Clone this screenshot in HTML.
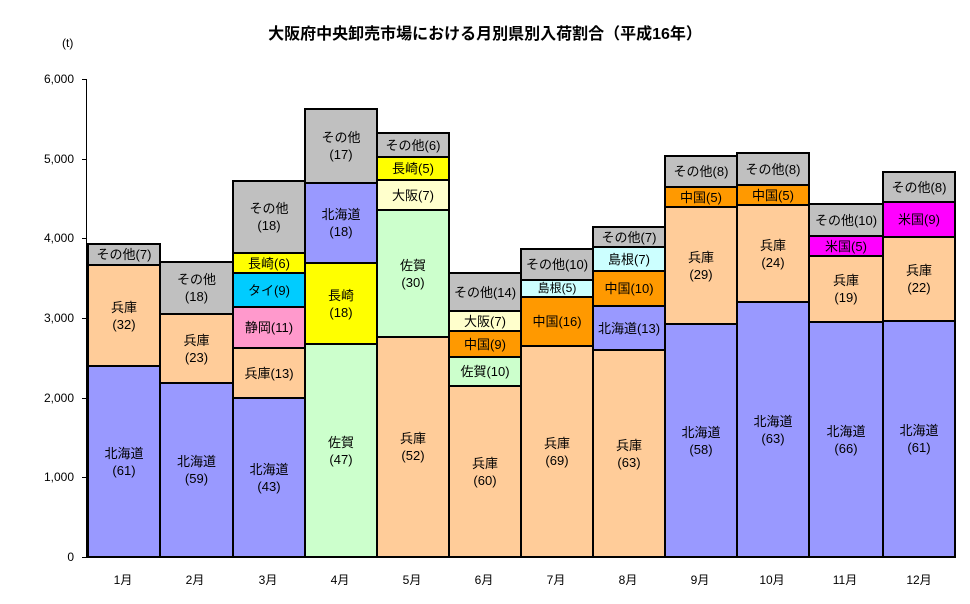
<!DOCTYPE html><html><head><meta charset="utf-8"><style>
body{margin:0;width:970px;height:604px;background:#fff;position:relative;overflow:hidden;font-family:"Liberation Sans","Noto Sans CJK JP",sans-serif;color:#000}
.s{position:absolute;box-sizing:border-box;border:2px solid #000;display:flex;align-items:center;justify-content:center;text-align:center;font-size:13px;line-height:17px;white-space:nowrap;overflow:hidden}
.t{position:absolute;font-size:12px;text-align:right;width:60px;left:14px}
.m{position:absolute;font-size:12px;top:571px;width:72px;text-align:center}
.k{position:absolute;left:82px;width:5px;height:1px;background:#000}
.a{background:#9999ff}.b{background:#ffcc99}.c{background:#c0c0c0}.y{background:#ffff00}.ta{background:#00ccff}.sz{background:#ff99cc}.sg{background:#ccffcc}.os{background:#ffffcc}.cn{background:#ff9900}.sm{background:#ccffff}.us{background:#ff00ff}
</style></head><body>
<div style="position:absolute;top:20px;left:0;width:970px;text-align:center;font-size:16px;font-weight:bold">大阪府中央卸売市場における月別県別入荷割合（平成16年）</div>
<div style="position:absolute;left:62px;top:36px;font-size:12px">(t)</div>
<div class="t" style="top:72px">6,000</div><div class="t" style="top:152px">5,000</div><div class="t" style="top:231px">4,000</div><div class="t" style="top:311px">3,000</div><div class="t" style="top:391px">2,000</div><div class="t" style="top:470px">1,000</div><div class="t" style="top:550px">0</div>
<div class="k" style="top:79px"></div><div class="k" style="top:159px"></div><div class="k" style="top:238px"></div><div class="k" style="top:318px"></div><div class="k" style="top:398px"></div><div class="k" style="top:477px"></div><div class="k" style="top:557px"></div>
<div style="position:absolute;left:86px;top:79px;width:1px;height:479px;background:#000"></div>
<div style="position:absolute;left:86px;top:557px;width:870px;height:1px;background:#000"></div>

<!-- 1 -->
<div class="s c" style="left:87px;width:74px;top:243px;height:23px">その他(7)</div>
<div class="s b" style="left:87px;width:74px;top:264px;height:103px">兵庫<br>(32)</div>
<div class="s a" style="left:87px;width:74px;top:365px;height:193px">北海道<br>(61)</div>
<!-- 2 -->
<div class="s c" style="left:159px;width:75px;top:261px;height:54px">その他<br>(18)</div>
<div class="s b" style="left:159px;width:75px;top:313px;height:71px">兵庫<br>(23)</div>
<div class="s a" style="left:159px;width:75px;top:382px;height:176px">北海道<br>(59)</div>
<!-- 3 -->
<div class="s c" style="left:232px;width:74px;top:180px;height:74px">その他<br>(18)</div>
<div class="s y" style="left:232px;width:74px;top:252px;height:22px">長崎(6)</div>
<div class="s ta" style="left:232px;width:74px;top:272px;height:36px">タイ(9)</div>
<div class="s sz" style="left:232px;width:74px;top:306px;height:43px">静岡(11)</div>
<div class="s b" style="left:232px;width:74px;top:347px;height:52px">兵庫(13)</div>
<div class="s a" style="left:232px;width:74px;top:397px;height:161px">北海道<br>(43)</div>
<!-- 4 -->
<div class="s c" style="left:304px;width:74px;top:108px;height:76px">その他<br>(17)</div>
<div class="s a" style="left:304px;width:74px;top:182px;height:82px">北海道<br>(18)</div>
<div class="s y" style="left:304px;width:74px;top:262px;height:83px">長崎<br>(18)</div>
<div class="s sg" style="left:304px;width:74px;top:343px;height:215px">佐賀<br>(47)</div>
<!-- 5 -->
<div class="s c" style="left:376px;width:74px;top:132px;height:26px">その他(6)</div>
<div class="s y" style="left:376px;width:74px;top:156px;height:25px">長崎(5)</div>
<div class="s os" style="left:376px;width:74px;top:179px;height:32px">大阪(7)</div>
<div class="s sg" style="left:376px;width:74px;top:209px;height:129px">佐賀<br>(30)</div>
<div class="s b" style="left:376px;width:74px;top:336px;height:222px">兵庫<br>(52)</div>
<!-- 6 -->
<div class="s c" style="left:448px;width:74px;top:272px;height:40px">その他(14)</div>
<div class="s os" style="left:448px;width:74px;top:310px;height:22px">大阪(7)</div>
<div class="s cn" style="left:448px;width:74px;top:330px;height:28px">中国(9)</div>
<div class="s sg" style="left:448px;width:74px;top:356px;height:31px">佐賀(10)</div>
<div class="s b" style="left:448px;width:74px;top:385px;height:173px">兵庫<br>(60)</div>
<!-- 7 -->
<div class="s c" style="left:520px;width:74px;top:248px;height:33px">その他(10)</div>
<div class="s sm" style="left:520px;width:74px;top:279px;height:19px;font-size:12px">島根(5)</div>
<div class="s cn" style="left:520px;width:74px;top:296px;height:51px">中国(16)</div>
<div class="s b" style="left:520px;width:74px;top:345px;height:213px">兵庫<br>(69)</div>
<!-- 8 -->
<div class="s c" style="left:592px;width:74px;top:226px;height:22px">その他(7)</div>
<div class="s sm" style="left:592px;width:74px;top:246px;height:26px">島根(7)</div>
<div class="s cn" style="left:592px;width:74px;top:270px;height:37px">中国(10)</div>
<div class="s a" style="left:592px;width:74px;top:305px;height:46px">北海道(13)</div>
<div class="s b" style="left:592px;width:74px;top:349px;height:209px">兵庫<br>(63)</div>
<!-- 9 -->
<div class="s c" style="left:664px;width:74px;top:155px;height:33px">その他(8)</div>
<div class="s cn" style="left:664px;width:74px;top:186px;height:22px">中国(5)</div>
<div class="s b" style="left:664px;width:74px;top:206px;height:119px">兵庫<br>(29)</div>
<div class="s a" style="left:664px;width:74px;top:323px;height:235px">北海道<br>(58)</div>
<!-- 10 -->
<div class="s c" style="left:736px;width:74px;top:152px;height:34px">その他(8)</div>
<div class="s cn" style="left:736px;width:74px;top:184px;height:22px">中国(5)</div>
<div class="s b" style="left:736px;width:74px;top:204px;height:99px">兵庫<br>(24)</div>
<div class="s a" style="left:736px;width:74px;top:301px;height:257px">北海道<br>(63)</div>
<!-- 11 -->
<div class="s c" style="left:808px;width:76px;top:203px;height:34px">その他(10)</div>
<div class="s us" style="left:808px;width:76px;top:235px;height:22px">米国(5)</div>
<div class="s b" style="left:808px;width:76px;top:255px;height:68px">兵庫<br>(19)</div>
<div class="s a" style="left:808px;width:76px;top:321px;height:237px">北海道<br>(66)</div>
<!-- 12 -->
<div class="s c" style="left:882px;width:74px;top:171px;height:32px">その他(8)</div>
<div class="s us" style="left:882px;width:74px;top:201px;height:37px">米国(9)</div>
<div class="s b" style="left:882px;width:74px;top:236px;height:86px">兵庫<br>(22)</div>
<div class="s a" style="left:882px;width:74px;top:320px;height:238px">北海道<br>(61)</div>

<div class="m" style="left:87px">1月</div><div class="m" style="left:159px">2月</div><div class="m" style="left:232px">3月</div><div class="m" style="left:304px">4月</div><div class="m" style="left:376px">5月</div><div class="m" style="left:448px">6月</div><div class="m" style="left:520px">7月</div><div class="m" style="left:592px">8月</div><div class="m" style="left:664px">9月</div><div class="m" style="left:736px">10月</div><div class="m" style="left:809px">11月</div><div class="m" style="left:883px">12月</div>
</body></html>
